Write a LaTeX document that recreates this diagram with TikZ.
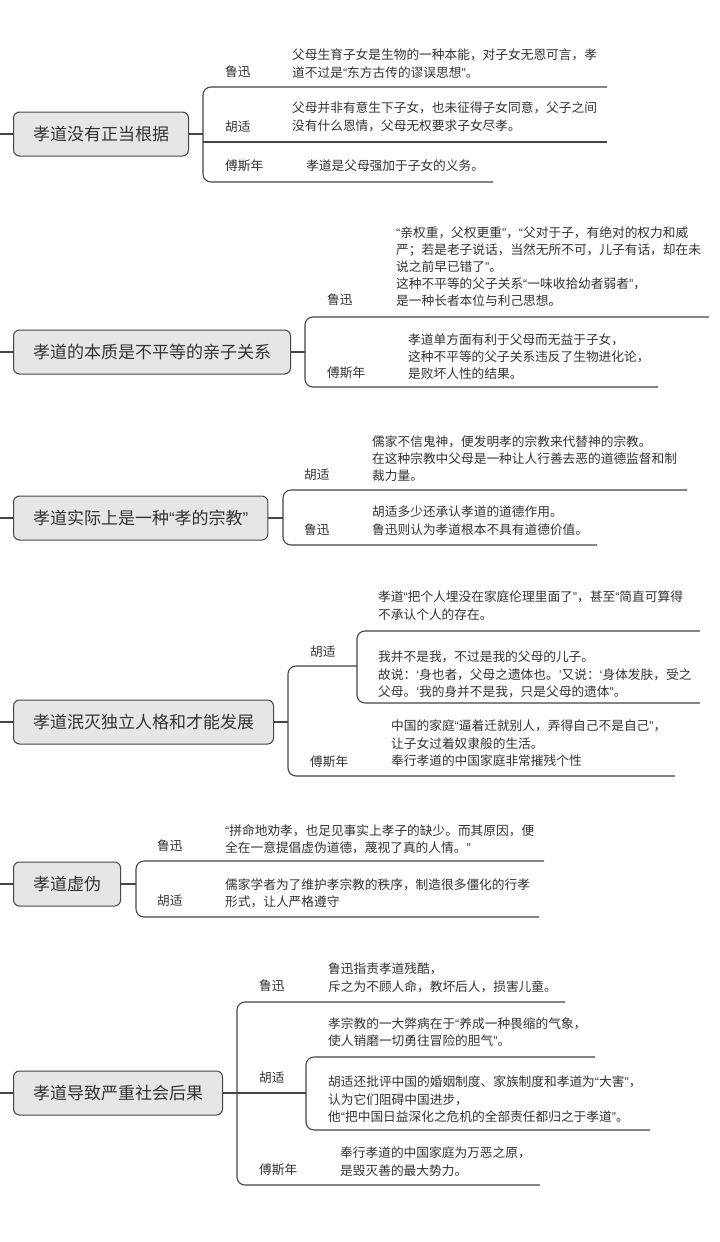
\documentclass[tikz,border=0pt]{standalone}
\usepackage{fontspec}
\setmainfont{Noto Sans CJK SC}
\newfontfamily\quotefont{Liberation Sans}
\usetikzlibrary{positioning}

\definecolor{ink}{HTML}{333333}
\definecolor{wire}{HTML}{454545}
\definecolor{boxfill}{HTML}{E6E6E6}

% narrow quotes as in the reference
\newcommand\dqo{{\quotefont“}}
\newcommand\dqc{{\quotefont”}}
\newcommand\sqo{{\quotefont‘}}
\newcommand\sqc{{\quotefont’}}

\tikzset{
	topic/.style={draw=wire,fill=boxfill,rounded corners=6pt,line width=1pt,anchor=west,
		minimum height=44pt,inner xsep=19.5pt,font=\fontsize{17}{20}\selectfont,text=ink},
	who/.style={anchor=west,inner sep=0pt,font=\fontsize{12.7}{17}\selectfont,text=ink},
	say/.style={anchor=north west,inner sep=0pt,align=left,font=\fontsize{12.7}{17.2}\selectfont,text=ink},
	branch/.style={draw=wire,line width=1.1pt,rounded corners=8pt},
}

\begin{document}
\begin{tikzpicture}[x=1pt,y=-1pt]
	\useasboundingbox[fill=white] (0,0) rectangle (720,1242);

	% 孝道没有正当根据
	\node[topic] (t1) at (13,134) {孝道没有正当根据};
	\node[who] (w1a) at (225,72) {鲁迅};
	\node[who] (w1b) at (225,127) {胡适};
	\node[who] (w1c) at (225,166) {傅斯年};
	\node[say] (s1a) at (292,49) {父母生育子女是生物的一种本能，对子女无恩可言，孝\\道不过是\dqo 东方古传的谬误思想\dqc 。};
	\node[say] (s1b) at (292,102) {父母并非有意生下子女，也未征得子女同意，父子之间\\没有什么恩情，父母无权要求子女尽孝。};
	\node[say] (s1c) at (306,160) {孝道是父母强加于子女的义务。};
	\coordinate (k1) at (203,134);
	\coordinate (u1a) at (607,87);
	\coordinate (u1b) at (607,142);
	\coordinate (u1c) at (493,182);
	\draw[branch] (t1.west) -- ++(-13,0);
	\draw[branch] (t1.east) -- (k1);
	\draw[branch] (u1a) -| (k1) |- (u1c);
	\draw[branch] (k1 |- u1b) -- (u1b);

	% 孝道的本质是不平等的亲子关系
	\node[topic] (t2) at (13,352) {孝道的本质是不平等的亲子关系};
	\node[who] (w2a) at (327,300) {鲁迅};
	\node[who] (w2b) at (327,373) {傅斯年};
	\node[say] (s2a) at (396,226) {\dqo 亲权重，父权更重\dqc ，\dqo 父对于子，有绝对的权力和威\\严；若是老子说话，当然无所不可，儿子有话，却在未\\说之前早已错了\dqc 。\\这种不平等的父子关系\dqo 一味收拾幼者弱者\dqc ，\\是一种长者本位与利己思想。};
	\node[say] (s2b) at (408,333) {孝道单方面有利于父母而无益于子女，\\这种不平等的父子关系违反了生物进化论，\\是败坏人性的结果。};
	\coordinate (k2) at (305,352);
	\coordinate (u2a) at (709,317);
	\coordinate (u2b) at (658,387);
	\draw[branch] (t2.west) -- ++(-13,0);
	\draw[branch] (t2.east) -- (k2);
	\draw[branch] (u2a) -| (k2) |- (u2b);

	% 孝道实际上是一种“孝的宗教”
	\node[topic] (t3) at (13,518) {孝道实际上是一种\dqo 孝的宗教\dqc};
	\node[who] (w3a) at (304,475) {胡适};
	\node[who] (w3b) at (304,530) {鲁迅};
	\node[say] (s3a) at (372,435) {儒家不信鬼神，便发明孝的宗教来代替神的宗教。\\在这种宗教中父母是一种让人行善去恶的道德监督和制\\裁力量。};
	\node[say] (s3b) at (372,506) {胡适多少还承认孝道的道德作用。\\鲁迅则认为孝道根本不具有道德价值。};
	\coordinate (k3) at (283,518);
	\coordinate (u3a) at (687,490);
	\coordinate (u3b) at (597,545);
	\draw[branch] (t3.west) -- ++(-13,0);
	\draw[branch] (t3.east) -- (k3);
	\draw[branch] (u3a) -| (k3) |- (u3b);

	% 孝道泯灭独立人格和才能发展
	\node[topic] (t4) at (13,722) {孝道泯灭独立人格和才能发展};
	\node[who] (w4a) at (310,652) {胡适};
	\node[who] (w4b) at (310,762) {傅斯年};
	\node[say] (s4a) at (378,591) {孝道\dqo 把个人埋没在家庭伦理里面了\dqc ，甚至\dqo 简直可算得\\不承认个人的存在。};
	\node[say] (s4b) at (378,651) {我并不是我，不过是我的父母的儿子。\\故说：\sqo 身也者，父母之遗体也。\sqc 又说：\sqo 身体发肤，受之\\父母。\sqc 我的身并不是我，只是父母的遗体\dqc 。};
	\node[say] (s4c) at (391,720) {中国的家庭\dqo 逼着迁就别人，弄得自己不是自己\dqc ，\\让子女过着奴隶般的生活。\\奉行孝道的中国家庭非常摧残个性};
	\coordinate (k4) at (288,722);
	\coordinate (n4) at (357,666);
	\coordinate (u4a) at (700,631);
	\coordinate (u4b) at (700,703);
	\coordinate (u4c) at (675,776);
	\draw[branch] (t4.west) -- ++(-13,0);
	\draw[branch] (t4.east) -- (k4);
	\draw[branch] (n4) -| (k4) |- (u4c);
	\draw[branch] (u4a) -| (n4) |- (u4b);

	% 孝道虚伪
	\node[topic] (t5) at (13,884) {孝道虚伪};
	\node[who] (w5a) at (157,846) {鲁迅};
	\node[who] (w5b) at (157,901) {胡适};
	\node[say] (s5a) at (225,824) {\dqo 拼命地劝孝，也足见事实上孝子的缺少。而其原因，便\\全在一意提倡虚伪道德，蔑视了真的人情。\dqc};
	\node[say] (s5b) at (225,878) {儒家学者为了维护孝宗教的秩序，制造很多僵化的行孝\\形式，让人严格遵守};
	\coordinate (k5) at (136,884);
	\coordinate (u5a) at (544,861);
	\coordinate (u5b) at (539,917);
	\draw[branch] (t5.west) -- ++(-13,0);
	\draw[branch] (t5.east) -- (k5);
	\draw[branch] (u5a) -| (k5) |- (u5b);

	% 孝道导致严重社会后果
	\node[topic] (t6) at (13,1093) {孝道导致严重社会后果};
	\node[who] (w6a) at (259,986) {鲁迅};
	\node[who] (w6b) at (259,1078) {胡适};
	\node[who] (w6c) at (259,1170) {傅斯年};
	\node[say] (s6a) at (328,963) {鲁迅指责孝道残酷，\\斥之为不顾人命，教坏后人，损害儿童。};
	\node[say] (s6b) at (328,1017) {孝宗教的一大弊病在于\dqo 养成一种畏缩的气象，\\使人销磨一切勇往冒险的胆气\dqc 。};
	\node[say] (s6c) at (328,1076) {胡适还批评中国的婚姻制度、家族制度和孝道为\dqo 大害\dqc ，\\认为它们阻碍中国进步，\\他\dqo 把中国日益深化之危机的全部责任都归之于孝道\dqc 。};
	\node[say] (s6d) at (340,1147) {奉行孝道的中国家庭为万恶之原，\\是毁灭善的最大势力。};
	\coordinate (k6) at (237,1093);
	\coordinate (n6) at (306,1093);
	\coordinate (u6a) at (565,1002);
	\coordinate (u6b) at (595,1057);
	\coordinate (u6c) at (650,1130);
	\coordinate (u6d) at (540,1185);
	\draw[branch] (t6.west) -- ++(-13,0);
	\draw[branch] (t6.east) -- (n6);
	\draw[branch] (u6a) -| (k6) |- (u6d);
	\draw[branch] (u6b) -| (n6) |- (u6c);
\end{tikzpicture}
\end{document}
